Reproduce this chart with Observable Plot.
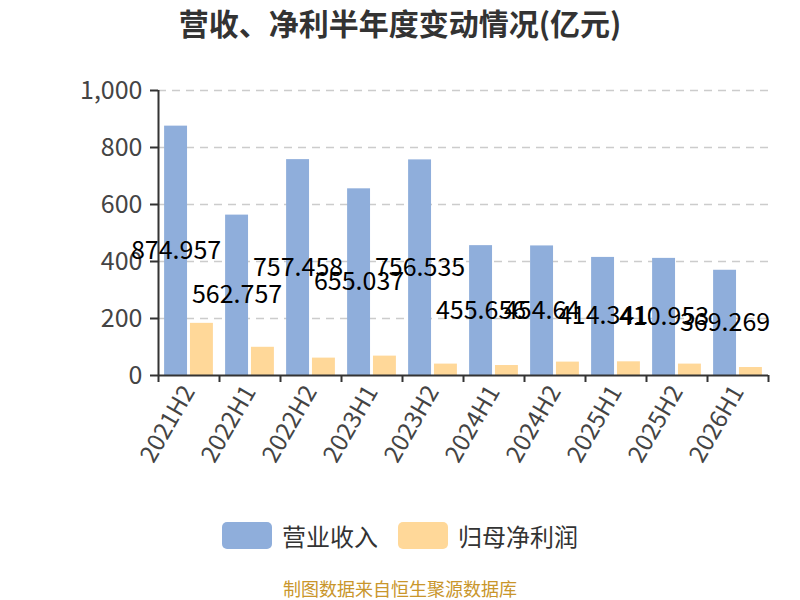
<!DOCTYPE html>
<html><head><meta charset="utf-8">
<script src="https://cdn.jsdelivr.net/npm/d3@7"></script>
<script src="https://cdn.jsdelivr.net/npm/@observablehq/plot@0.6"></script>
<style>
body{margin:0;background:#fff;font-family:"Noto Sans CJK SC","Noto Sans",sans-serif;}
#wrap{width:800px;height:600px;position:relative;overflow:hidden;background:#fff}
#title{position:absolute;top:0;left:0;width:800px;text-align:center;font-size:30px;font-weight:bold;color:#333;line-height:44px}
#chart{position:absolute;top:46px;left:0}
#legend{position:absolute;top:522px;left:0;width:800px;height:27px;display:flex;justify-content:center;align-items:center;font-size:24px;color:#333}
#legend .sw{width:50px;height:27px;border-radius:5px;margin-right:10px}
#legend .item{display:flex;align-items:center}
#caption{position:absolute;top:578px;left:0;width:800px;text-align:center;font-size:18px;line-height:20px;color:#c9962b}
</style></head>
<body>
<div id="wrap">
<div id="title">营收、净利半年度变动情况(亿元)</div>
<div id="chart"></div>
<div id="legend"></div>
<div id="caption">制图数据来自恒生聚源数据库</div>
</div>
<script>
const categories = ["2021H2","2022H1","2022H2","2023H1","2023H2","2024H1","2024H2","2025H1","2025H2","2026H1"];
const revenue = [874.957, 562.757, 757.458, 655.037, 756.535, 455.656, 454.64, 414.341, 410.953, 369.269];
const profit = [183, 99, 61, 68, 40, 35, 47, 48, 40, 28];
const yTicks = [0, 200, 400, 600, 800, 1000];
const seriesNames = ["营业收入", "归母净利润"];
const seriesColors = ["#8faedb", "#ffd899"];

const rows = categories.map((c, i) => ({c, i, revenue: revenue[i], profit: profit[i]}));
const font = '"Noto Sans CJK SC","Noto Sans",sans-serif';

const chart = Plot.plot({
  width: 800, height: 460,
  marginLeft: 158, marginRight: 32, marginTop: 44, marginBottom: 131,
  x: {domain: [0, categories.length], axis: null},
  y: {domain: [0, 1000], axis: null},
  style: {fontFamily: font, background: "white"},
  marks: [
    Plot.gridY(yTicks.filter(d => d > 0), {stroke: "#ccc", strokeOpacity: 1, strokeDasharray: "8,6", strokeWidth: 1.5}),
    Plot.rectY(rows, {x1: d => d.i + 0.1, x2: d => d.i + 0.476, y: "revenue", fill: seriesColors[0]}),
    Plot.rectY(rows, {x1: d => d.i + 0.524, x2: d => d.i + 0.9, y: "profit", fill: seriesColors[1]}),
    Plot.ruleY([0], {stroke: "#333", strokeWidth: 2}),
    Plot.ruleX([0], {stroke: "#333", strokeWidth: 2}),
    Plot.axisY({ticks: yTicks, tickFormat: d3.format(","), tickSize: 8, tickPadding: 8, fontSize: 25, fill: "#444", stroke: "#333", strokeWidth: 2}),
    Plot.axisX({ticks: d3.range(0, categories.length + 1), tickFormat: () => "", tickSize: 7, stroke: "#333", strokeWidth: 2}),
    Plot.axisX({ticks: categories.map((c, i) => i + 0.5), tickFormat: v => categories[Math.floor(v)], tickSize: 0, tickPadding: 12, tickRotate: -60, textAnchor: "end", lineAnchor: "middle", fontSize: 24, fill: "#444"}),
    Plot.text(rows, {x: d => d.i + 0.288, y: d => d.revenue / 2, text: d => String(d.revenue), fontSize: 25, fill: "#000"})
  ]
});
document.getElementById("chart").appendChild(chart);

const legend = document.getElementById("legend");
seriesNames.forEach((n, k) => {
  const it = document.createElement("div");
  it.className = "item";
  if (k > 0) it.style.marginLeft = "20px";
  it.innerHTML = `<div class="sw" style="background:${seriesColors[k]}"></div><span>${n}</span>`;
  legend.appendChild(it);
});
</script>
</body></html>
